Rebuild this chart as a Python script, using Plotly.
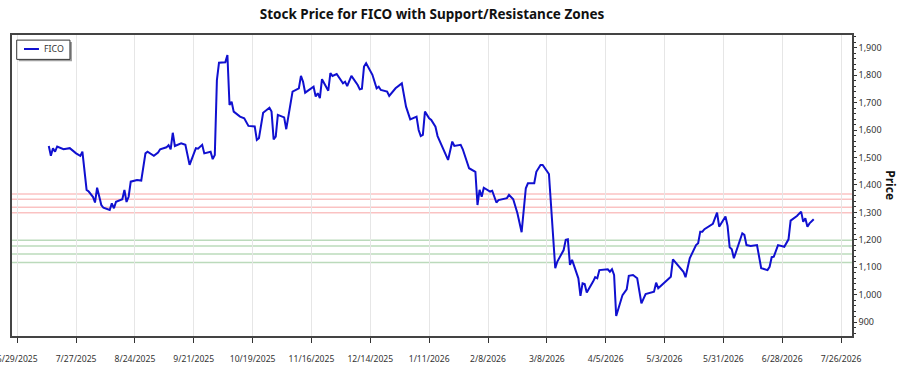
import plotly.graph_objects as go

dates = [
    "2025-07-14", "2025-07-15", "2025-07-16", "2025-07-17", "2025-07-18", "2025-07-21", "2025-07-24", "2025-07-27",
    "2025-07-29", "2025-07-30", "2025-08-01", "2025-08-02", "2025-08-04", "2025-08-05", "2025-08-06", "2025-08-08",
    "2025-08-09", "2025-08-12", "2025-08-13", "2025-08-14", "2025-08-15", "2025-08-18", "2025-08-19", "2025-08-20",
    "2025-08-21", "2025-08-22", "2025-08-25", "2025-08-27", "2025-08-29", "2025-08-30", "2025-09-02", "2025-09-04",
    "2025-09-05", "2025-09-08", "2025-09-09", "2025-09-10", "2025-09-11", "2025-09-12", "2025-09-15", "2025-09-17",
    "2025-09-19", "2025-09-22", "2025-09-23", "2025-09-24", "2025-09-25", "2025-09-26", "2025-09-29", "2025-09-30",
    "2025-10-01", "2025-10-02", "2025-10-03", "2025-10-06", "2025-10-07", "2025-10-08", "2025-10-09", "2025-10-10",
    "2025-10-13", "2025-10-15", "2025-10-17", "2025-10-20", "2025-10-21", "2025-10-22", "2025-10-24", "2025-10-27",
    "2025-10-28", "2025-10-29", "2025-10-30", "2025-10-31", "2025-11-03", "2025-11-04", "2025-11-07", "2025-11-10",
    "2025-11-11", "2025-11-12", "2025-11-13", "2025-11-17", "2025-11-18", "2025-11-19", "2025-11-20", "2025-11-21",
    "2025-11-24", "2025-11-25", "2025-11-26", "2025-11-28", "2025-12-01", "2025-12-02", "2025-12-03", "2025-12-05",
    "2025-12-08", "2025-12-09", "2025-12-10", "2025-12-11", "2025-12-12", "2025-12-15", "2025-12-17", "2025-12-18",
    "2025-12-19", "2025-12-22", "2025-12-23", "2025-12-26", "2025-12-29", "2025-12-31", "2026-01-02", "2026-01-05",
    "2026-01-06", "2026-01-07", "2026-01-08", "2026-01-09", "2026-01-11", "2026-01-12", "2026-01-14", "2026-01-15",
    "2026-01-20", "2026-01-22", "2026-01-23", "2026-01-26", "2026-01-27", "2026-01-30", "2026-02-02", "2026-02-03",
    "2026-02-04", "2026-02-05", "2026-02-06", "2026-02-09", "2026-02-10", "2026-02-12", "2026-02-13", "2026-02-17",
    "2026-02-18", "2026-02-20", "2026-02-22", "2026-02-24", "2026-02-26", "2026-02-27", "2026-03-02", "2026-03-03",
    "2026-03-05", "2026-03-06", "2026-03-09", "2026-03-12", "2026-03-13", "2026-03-16", "2026-03-17", "2026-03-18",
    "2026-03-19", "2026-03-20", "2026-03-21", "2026-03-23", "2026-03-24", "2026-03-25", "2026-03-26", "2026-03-27",
    "2026-03-30", "2026-03-31", "2026-04-01", "2026-04-02", "2026-04-06", "2026-04-07", "2026-04-08", "2026-04-09",
    "2026-04-10", "2026-04-13", "2026-04-15", "2026-04-16", "2026-04-18", "2026-04-20", "2026-04-22", "2026-04-24",
    "2026-04-28", "2026-04-29", "2026-04-30", "2026-05-05", "2026-05-06", "2026-05-07", "2026-05-10", "2026-05-12",
    "2026-05-13", "2026-05-15", "2026-05-18", "2026-05-19", "2026-05-20", "2026-05-21", "2026-05-22", "2026-05-26",
    "2026-05-28", "2026-05-29", "2026-06-01", "2026-06-02", "2026-06-03", "2026-06-04", "2026-06-05", "2026-06-09",
    "2026-06-10", "2026-06-11", "2026-06-13", "2026-06-16", "2026-06-18", "2026-06-21", "2026-06-22", "2026-06-23",
    "2026-06-24", "2026-06-26", "2026-06-29", "2026-07-01", "2026-07-02", "2026-07-05", "2026-07-07", "2026-07-08",
    "2026-07-09", "2026-07-10", "2026-07-11", "2026-07-13",
]

prices = [
    1542, 1506, 1534, 1521, 1540, 1530, 1534, 1515,
    1506, 1521, 1382, 1376, 1357, 1336, 1390, 1327,
    1317, 1309, 1333, 1315, 1339, 1348, 1382, 1338,
    1357, 1412, 1418, 1416, 1515, 1521, 1506, 1518,
    1530, 1537, 1545, 1530, 1590, 1542, 1552, 1546,
    1473, 1534, 1532, 1540, 1546, 1515, 1521, 1494,
    1509, 1782, 1845, 1847, 1873, 1691, 1703, 1667,
    1649, 1643, 1615, 1613, 1564, 1570, 1663, 1681,
    1667, 1566, 1576, 1655, 1646, 1603, 1740, 1752,
    1797, 1776, 1736, 1758, 1722, 1734, 1716, 1785,
    1743, 1807, 1797, 1804, 1770, 1776, 1760, 1797,
    1764, 1748, 1750, 1831, 1843, 1801, 1752, 1758,
    1746, 1740, 1724, 1752, 1770, 1685, 1639, 1649,
    1600, 1578, 1582, 1667, 1643, 1637, 1612, 1578,
    1491, 1558, 1542, 1546, 1530, 1461, 1448, 1327,
    1382, 1357, 1390, 1376, 1379, 1336, 1345, 1352,
    1364, 1348, 1297, 1228, 1388, 1406, 1406, 1448,
    1473, 1473, 1440, 1097, 1121, 1163, 1200, 1202,
    1109, 1127, 1102, 1060, 996, 1042, 1039, 1008,
    1048, 1064, 1060, 1090, 1093, 1084, 1093, 1072,
    923, 999, 1020, 1069, 1072, 1060, 969, 1003,
    1011, 1044, 1024, 1062, 1066, 1129, 1103, 1084,
    1064, 1133, 1181, 1188, 1230, 1230, 1239, 1258,
    1299, 1248, 1285, 1251, 1173, 1166, 1133, 1224,
    1218, 1181, 1178, 1181, 1097, 1090, 1102, 1137,
    1139, 1181, 1175, 1202, 1270, 1287, 1303, 1266,
    1279, 1248, 1260, 1275,
]

resistance_levels = [1367, 1348, 1319, 1299]
support_levels = [1199, 1178, 1149, 1118]

x_tick_dates = [
    "2025-06-29", "2025-07-27", "2025-08-24", "2025-09-21", "2025-10-19", "2025-11-16", "2025-12-14",
    "2026-01-11", "2026-02-08", "2026-03-08", "2026-04-05", "2026-05-03", "2026-05-31", "2026-06-28", "2026-07-26",
]
x_tick_labels = [
    "6/29/2025", "7/27/2025", "8/24/2025", "9/21/2025", "10/19/2025", "11/16/2025", "12/14/2025",
    "1/11/2026", "2/8/2026", "3/8/2026", "4/5/2026", "5/3/2026", "5/31/2026", "6/28/2026", "7/26/2026",
]

series_name = "FICO"
LINE_COLOR = "#1010D0"
FONT = "Noto Sans"

fig = go.Figure()
fig.add_trace(go.Scatter(
    x=dates, y=prices, mode="lines", name=series_name,
    line=dict(color=LINE_COLOR, width=2),
    showlegend=False,
))

shapes = []
for lv in resistance_levels:
    shapes.append(dict(type="line", xref="paper", yref="y", x0=0, x1=1, y0=lv, y1=lv,
                       line=dict(color="rgba(240,80,80,0.35)", width=1.5), layer="below"))
for lv in support_levels:
    shapes.append(dict(type="line", xref="paper", yref="y", x0=0, x1=1, y0=lv, y1=lv,
                       line=dict(color="rgba(60,150,60,0.35)", width=1.5), layer="below"))

# custom legend box (with drop shadow), drawn in paper coordinates
shapes.append(dict(type="rect", xref="paper", yref="paper", x0=0.0080, x1=0.0714, y0=0.9126, y1=0.9767,
                   fillcolor="#A0A0A0", line=dict(width=0), layer="above"))
shapes.append(dict(type="rect", xref="paper", yref="paper", x0=0.0056, x1=0.069, y0=0.919, y1=0.983,
                   fillcolor="white", line=dict(color="#333333", width=1), layer="above"))
shapes.append(dict(type="line", xref="paper", yref="paper", x0=0.0143, x1=0.0321, y0=0.9535, y1=0.9535,
                   line=dict(color=LINE_COLOR, width=2), layer="above"))

fig.update_layout(
    width=900, height=375,
    margin=dict(l=12, r=48, t=35, b=39, autoexpand=False),
    paper_bgcolor="white", plot_bgcolor="white",
    font=dict(family=FONT, size=9, color="#333333"),
    title=dict(text="<b>Stock Price for FICO with Support/Resistance Zones</b>",
               x=0.48, xanchor="center", y=0.963, yanchor="middle",
               font=dict(family=FONT, size=13.5, color="#111111")),
    showlegend=False,
    shapes=shapes,
    annotations=[
        dict(text="<b>Price</b>", xref="paper", yref="paper", x=1.0455, y=0.5,
             xanchor="center", yanchor="middle", showarrow=False, textangle=90,
             font=dict(family=FONT, size=12, color="#111111")),
        dict(text=series_name, xref="paper", yref="paper", x=0.0362, y=0.9535,
             xanchor="left", yanchor="middle", showarrow=False,
             font=dict(family=FONT, size=8.8, color="#333333")),
    ],
)

fig.update_xaxes(
    type="date",
    range=["2025-06-26 12:00", "2026-07-31 05:00"],
    tickmode="array", tickvals=x_tick_dates, ticktext=x_tick_labels,
    ticks="outside", ticklen=5, tickcolor="#333333",
    ticklabeloverflow="allow", automargin=False, ticklabelstandoff=9,
    showgrid=True, gridcolor="#E6E6E6", gridwidth=1,
    showline=True, linecolor="#444444", linewidth=1.5, mirror=True,
    tickfont=dict(family=FONT, size=8.6, color="#333333"),
    zeroline=False,
)
fig.update_yaxes(
    side="right",
    range=[850, 1946],
    tick0=900, dtick=100, tickformat=",",
    ticks="outside", ticklen=3, tickcolor="#333333",
    minor=dict(dtick=20, ticks="outside", ticklen=2, tickcolor="#333333"),
    showgrid=False, zeroline=False, automargin=False,
    showline=True, linecolor="#444444", linewidth=1.5, mirror=True,
    tickfont=dict(family=FONT, size=9, color="#333333"),
)

fig.write_html("out.html")
